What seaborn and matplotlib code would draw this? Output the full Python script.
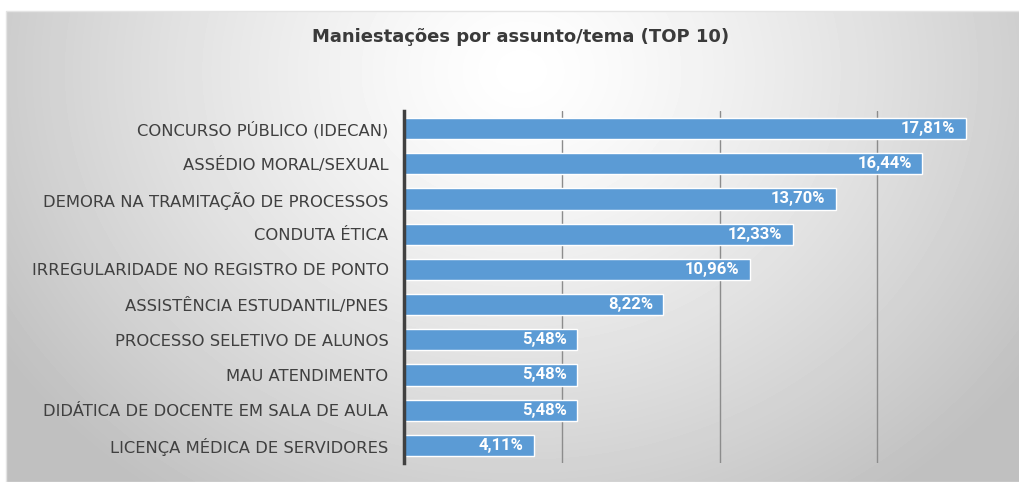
import numpy as np
import pandas as pd
import seaborn as sns
import matplotlib.pyplot as plt

categorias = [
    "CONCURSO PÚBLICO (IDECAN)",
    "ASSÉDIO MORAL/SEXUAL",
    "DEMORA NA TRAMITAÇÃO DE PROCESSOS",
    "CONDUTA ÉTICA",
    "IRREGULARIDADE NO REGISTRO DE PONTO",
    "ASSISTÊNCIA ESTUDANTIL/PNES",
    "PROCESSO SELETIVO DE ALUNOS",
    "MAU ATENDIMENTO",
    "DIDÁTICA DE DOCENTE EM SALA DE AULA",
    "LICENÇA MÉDICA DE SERVIDORES",
]
percentuais = [17.81, 16.44, 13.70, 12.33, 10.96, 8.22, 5.48, 5.48, 5.48, 4.11]
titulo = "Maniestações por assunto/tema (TOP 10)"

df = pd.DataFrame({"assunto": categorias, "pct": percentuais})

sns.set_style("white")
plt.rcParams["font.family"] = ["DejaVu Sans"]

W, H = 1020, 482
fig = plt.figure(figsize=(W / 100, H / 100), dpi=100)

# background panel with radial gradient
bg = fig.add_axes([6 / W, 0, 1 - 6 / W, 1 - 11 / H])
yy, xx = np.mgrid[0:471, 0:1014]
r = np.sqrt(((xx - 515) / 1.0) ** 2 + ((yy - 60) / 0.85) ** 2)
g = np.clip(r / 620, 0, 1)
vals = 1.0 - 0.25 * g ** 1.3
bg.imshow(vals, cmap="gray", vmin=0, vmax=1, aspect="auto",
          extent=[0, 1, 0, 1], origin="upper")
bg.set_axis_off()
fig.patches.append(plt.Rectangle((6 / W, 0), 1, 1 - 11 / H, transform=fig.transFigure,
                                 fill=False, edgecolor="#e4e4e4", lw=1))

ax = fig.add_axes([404.5 / W, 1 - 463 / H, (1000 - 404.5) / W, (463 - 111) / H])
ax.patch.set_alpha(0)
sns.barplot(data=df, x="pct", y="assunto", orient="h", color="#5b9bd5",
            saturation=1, width=0.6, edgecolor="white", linewidth=1, ax=ax)

ax.set_xlim(0, (1000 - 404.5) / 31.5)
ax.set_ylim(9.5, -0.5)
ax.set_xticks([5, 10, 15])
ax.xaxis.grid(True, color="#8c8c8c", lw=1)
ax.set_axisbelow(True)
ax.tick_params(axis="x", bottom=False, labelbottom=False)
ax.tick_params(axis="y", left=False, pad=8, labelsize=11.8, labelcolor="#404040")
for s in ["top", "right", "bottom"]:
    ax.spines[s].set_visible(False)
ax.spines["left"].set_color("#404040")
ax.spines["left"].set_linewidth(2.5)
ax.set_xlabel("")
ax.set_ylabel("")

for i, v in enumerate(percentuais):
    ax.text(v - 0.33, i, f"{v:.2f}%".replace(".", ","), ha="right", va="center",
            color="white", fontsize=12, fontweight="bold",
            family=["Roboto", "DejaVu Sans"])

fig.text(521 / W, 1 - 37 / H, titulo, ha="center", va="center",
         fontsize=13, fontweight="bold", color="#3a3a3a")

fig.savefig("out.png", dpi=100)
